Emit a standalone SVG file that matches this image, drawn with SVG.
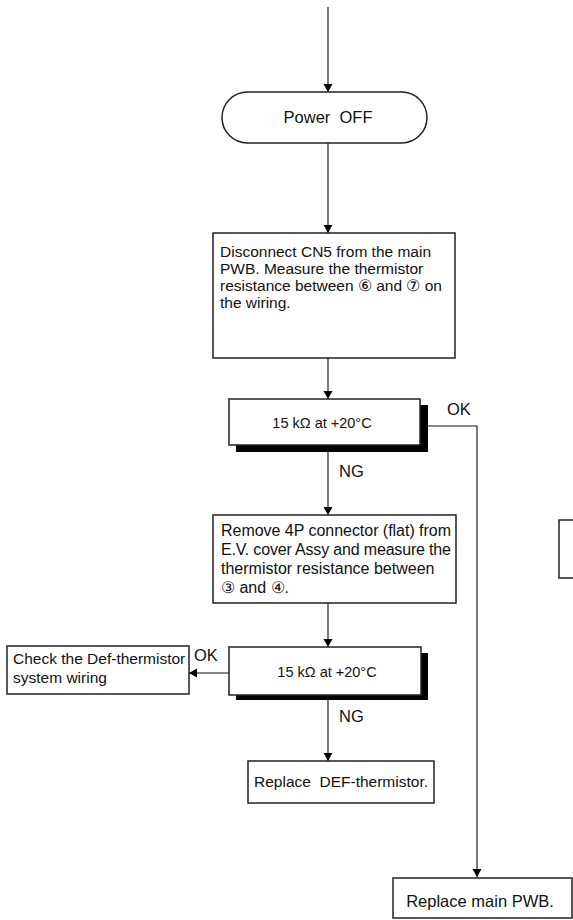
<svg xmlns="http://www.w3.org/2000/svg" width="573" height="920" viewBox="0 0 573 920">
<style>
  text { font-family: "Liberation Sans", Arial, sans-serif; fill: #111; }
  .box { fill: #fff; stroke: #222; stroke-width: 1.5; }
  .shadow { fill: #000; }
  .line { fill: none; stroke: #111; stroke-width: 1.1; }
  .t16 { font-size: 16px; }
  .t15 { font-size: 15.5px; }
  .dec { font-size: 14.5px; }
  .lbl { font-size: 16.5px; }
</style>
<defs>
  <marker id="arr" viewBox="0 0 8 14" refX="8" refY="7" markerWidth="8" markerHeight="14" markerUnits="userSpaceOnUse" orient="auto">
    <path d="M0,2.5 L8,7 L0,11.5 Z" fill="#000"/>
  </marker>
</defs>

<g id="connectors">
  <line class="line" x1="328" y1="7" x2="328" y2="92" marker-end="url(#arr)"/>
  <line class="line" x1="328" y1="143" x2="328" y2="233" marker-end="url(#arr)"/>
  <line class="line" x1="328" y1="358" x2="328" y2="399" marker-end="url(#arr)"/>
  <line class="line" x1="328" y1="452" x2="328" y2="515" marker-end="url(#arr)"/>
  <polyline class="line" points="428,426 477,426 477,877" marker-end="url(#arr)"/>
  <line class="line" x1="328" y1="603" x2="328" y2="647" marker-end="url(#arr)"/>
  <line class="line" x1="229" y1="673" x2="189" y2="673" marker-end="url(#arr)"/>
  <line class="line" x1="328" y1="700" x2="328" y2="761" marker-end="url(#arr)"/>
  <text class="lbl" x="447" y="415">OK</text>
  <text class="lbl" x="339" y="477">NG</text>
  <text class="lbl" x="194" y="661">OK</text>
  <text class="lbl" x="339" y="722">NG</text>
</g>

<g id="power-off">
  <rect class="box" x="222" y="92" width="205" height="51" rx="25.5"/>
  <text class="lbl" x="328" y="122.5" text-anchor="middle" xml:space="preserve">Power  OFF</text>
</g>

<g id="disconnect-cn5">
  <rect class="box" x="213" y="233" width="242" height="125"/>
  <text class="t15" x="220" y="257">Disconnect CN5 from the main</text>
  <text class="t15" x="220" y="274">PWB. Measure the thermistor</text>
  <text class="t15" x="220" y="291">resistance between ⑥ and ⑦ on</text>
  <text class="t15" x="220" y="308">the wiring.</text>
</g>

<g id="check1">
  <rect class="shadow" x="236" y="405" width="192" height="47"/>
  <rect class="box" x="229" y="399" width="191" height="46"/>
  <text class="dec" x="322" y="428" text-anchor="middle">15 kΩ at +20°C</text>
</g>

<g id="remove-4p">
  <rect class="box" x="213" y="515" width="243" height="88"/>
  <text class="t16" x="221" y="536" textLength="230" lengthAdjust="spacing">Remove 4P connector (flat) from</text>
  <text class="t16" x="221" y="555" textLength="230" lengthAdjust="spacing">E.V. cover Assy and measure the</text>
  <text class="t16" x="221" y="574">thermistor resistance between</text>
  <text class="t16" x="221" y="593">③ and ④.</text>
</g>

<g id="check2">
  <rect class="shadow" x="236" y="653" width="192" height="47"/>
  <rect class="box" x="229" y="647" width="192" height="48"/>
  <text class="dec" x="327" y="677" text-anchor="middle">15 kΩ at +20°C</text>
</g>

<g id="check-wiring">
  <rect class="box" x="7" y="646" width="182" height="48"/>
  <text class="t15" x="13" y="664">Check the Def-thermistor</text>
  <text class="t15" x="13" y="683">system wiring</text>
</g>

<g id="replace-def">
  <rect class="box" x="248" y="761" width="186" height="42"/>
  <text class="t15" x="341" y="787" text-anchor="middle" xml:space="preserve">Replace  DEF-thermistor.</text>
</g>

<g id="replace-pwb">
  <rect class="box" x="393" y="878" width="179" height="40"/>
  <text class="lbl" x="480" y="907" text-anchor="middle">Replace main PWB.</text>
</g>

<g id="partial-box">
  <rect class="box" x="559" y="520" width="30" height="58"/>
</g>
</svg>
